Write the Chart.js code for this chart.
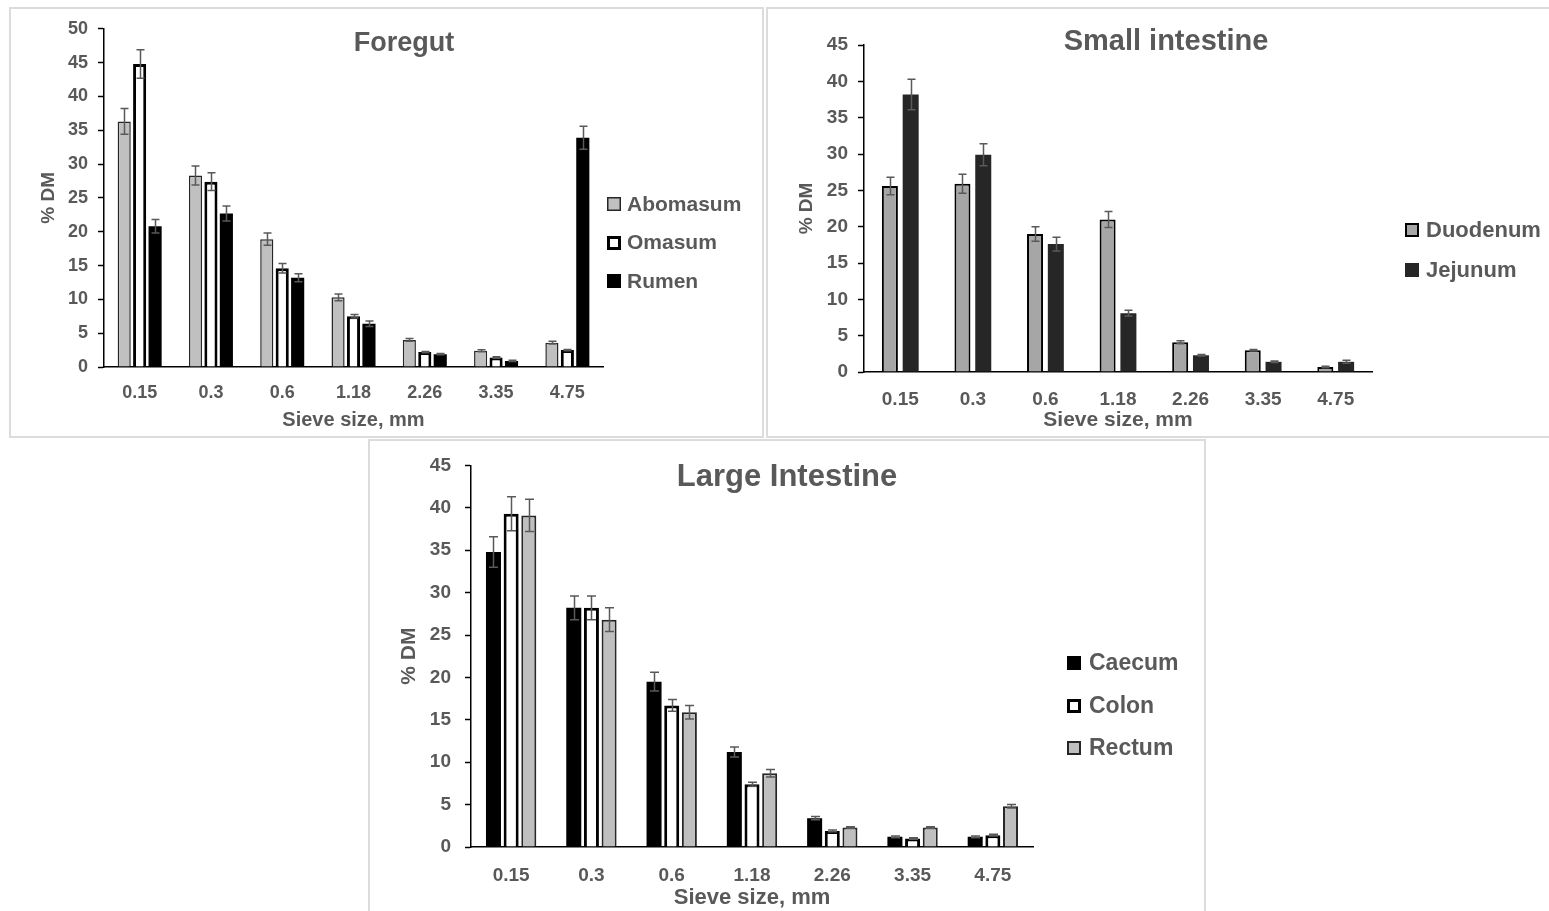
<!DOCTYPE html>
<html>
<head>
<meta charset="utf-8">
<title>Particle size distribution of digesta along the gut</title>
<script src="https://cdn.jsdelivr.net/npm/chart.js@4.4.1/dist/chart.umd.min.js"></script>
<style>
  html, body { margin: 0; padding: 0; background: #fff; }
  body { width: 1549px; height: 911px; position: relative; overflow: hidden; }
  .frame { position: absolute; box-sizing: border-box; border: 2px solid #dcdcdc; }
  canvas { position: absolute; }
</style>
</head>
<body>
<div class="frame" style="left:9px;top:7px;width:755px;height:431px"></div>
<div class="frame" style="left:766px;top:7px;width:800px;height:431px"></div>
<div class="frame" style="left:368px;top:439px;width:838px;height:490px"></div>
<canvas id="foregut" width="754" height="429" style="left:10px;top:8px"></canvas>
<canvas id="small" width="782" height="429" style="left:767px;top:8px"></canvas>
<canvas id="large" width="836" height="471" style="left:369px;top:440px"></canvas>
<script>
// sieve fractions, % of dry matter retained (mean and SE)
const SIEVE = ["0.15", "0.3", "0.6", "1.18", "2.26", "3.35", "4.75"];

const ABOMASUM = [36.3, 28.3, 18.9, 10.3, 4.0, 2.4, 3.6];
const ABOMASUM_SE = [1.9, 1.4, 0.9, 0.5, 0.2, 0.15, 0.2];
const OMASUM = [44.8, 27.4, 14.6, 7.5, 2.2, 1.4, 2.5];
const OMASUM_SE = [2.1, 1.3, 0.7, 0.25, 0.1, 0.1, 0.1];
const RUMEN = [20.8, 22.7, 13.2, 6.4, 1.9, 0.9, 33.9];
const RUMEN_SE = [1.0, 1.1, 0.6, 0.4, 0.1, 0.1, 1.7];

const DUODENUM = [25.6, 25.9, 19.0, 21.0, 4.1, 3.0, 0.7];
const DUODENUM_SE = [1.2, 1.3, 1.0, 1.1, 0.2, 0.1, 0.1];
const JEJUNUM = [38.2, 29.9, 17.6, 8.1, 2.3, 1.4, 1.4];
const JEJUNUM_SE = [2.1, 1.5, 0.95, 0.4, 0.1, 0.1, 0.2];

const CAECUM = [34.8, 28.2, 19.5, 11.2, 3.4, 1.2, 1.2];
const CAECUM_SE = [1.8, 1.4, 1.1, 0.6, 0.2, 0.1, 0.1];
const COLON = [39.3, 28.2, 16.7, 7.4, 1.9, 1.0, 1.4];
const COLON_SE = [2.0, 1.4, 0.7, 0.25, 0.1, 0.1, 0.1];
const RECTUM = [39.1, 26.8, 15.9, 8.7, 2.3, 2.3, 4.8];
const RECTUM_SE = [1.9, 1.4, 0.8, 0.45, 0.1, 0.1, 0.2];

(() => {
  const $ = (id) => document.getElementById(id);
  const FONT = '"Liberation Sans", Arial, sans-serif';
  const INK = "#595959";

  Chart.defaults.font.family = FONT;
  Chart.defaults.font.weight = "bold";
  Chart.defaults.color = INK;

  // mean ± SE whiskers on top of each bar
  const errorBars = {
    id: "errorBars",
    afterDatasetsDraw(chart, args, o) {
      const { ctx } = chart, y = chart.scales.y;
      ctx.save();
      ctx.strokeStyle = o.color; ctx.lineWidth = o.width;
      chart.data.datasets.forEach((ds, di) => {
        if (!ds.errors) return;
        chart.getDatasetMeta(di).data.forEach((bar, i) => {
          const v = ds.data[i], e = ds.errors[i];
          const top = y.getPixelForValue(v + e), bot = y.getPixelForValue(v - e);
          const x = Math.round(bar.x) + 0.5;
          ctx.beginPath();
          ctx.moveTo(x, top); ctx.lineTo(x, bot);
          ctx.moveTo(x - o.cap, top); ctx.lineTo(x + o.cap, top);
          ctx.moveTo(x - o.cap, bot); ctx.lineTo(x + o.cap, bot);
          ctx.stroke();
        });
      });
      ctx.restore();
    },
  };

  // title sits inside the plot, like the spreadsheet original
  const panelTitle = {
    id: "panelTitle",
    afterDraw(chart, args, o) {
      const { ctx } = chart;
      ctx.save();
      ctx.font = `bold ${o.size}px ${FONT}`;
      ctx.fillStyle = INK; ctx.textAlign = "center"; ctx.textBaseline = "middle";
      ctx.fillText(o.text, o.x, o.y);
      ctx.restore();
    },
  };

  // legend to the right of the plot, swatches copy the dataset styling
  const sideLegend = {
    id: "sideLegend",
    afterDraw(chart, args, o) {
      const { ctx } = chart;
      ctx.save();
      ctx.font = `bold ${o.size}px ${FONT}`;
      ctx.textBaseline = "middle";
      chart.data.datasets.forEach((ds, i) => {
        const cy = o.y + i * o.gap, bw = ds.legendBorder || 0;
        const bx = o.x, by = Math.round(cy - o.box / 2);
        ctx.fillStyle = bw ? ds.borderColor : ds.backgroundColor;
        ctx.fillRect(bx, by, o.box, o.box);
        if (bw) {
          ctx.fillStyle = ds.backgroundColor;
          ctx.fillRect(bx + bw, by + bw, o.box - 2 * bw, o.box - 2 * bw);
        }
        ctx.fillStyle = INK;
        ctx.fillText(ds.label, o.textX, cy + 1);
      });
      ctx.restore();
    },
  };

  const series = (label, data, errors, fill, border, bw, legendBorder) => ({
    label, data, errors,
    backgroundColor: fill, borderColor: border, borderWidth: bw, legendBorder,
  });

  function drawPanel(id, p) {
    new Chart($(id), {
      type: "bar",
      data: { labels: SIEVE, datasets: p.datasets.map((d) => Object.assign(d, {
        categoryPercentage: p.cat, barPercentage: p.bar,
      })) },
      options: {
        responsive: false, animation: false,
        layout: { padding: { left: 0, top: p.top, right: p.right, bottom: 0 } },
        plugins: {
          legend: { display: false }, tooltip: { enabled: false },
          errorBars: { color: "#595959", width: 1.5, cap: p.cap },
          panelTitle: p.title,
          sideLegend: p.legend,
        },
        scales: {
          x: {
            grid: { display: false, drawTicks: false },
            border: { color: "#000", width: 1.5 },
            ticks: { font: { size: p.tick }, padding: p.xPad, color: INK },
            title: { display: true, text: "Sieve size, mm", color: INK,
              font: { size: p.axis }, padding: { top: 0, bottom: p.xTitlePad } },
            afterFit: (s) => { s.height = p.xh; },
          },
          y: {
            min: 0, max: p.max,
            ticks: { stepSize: 5, font: { size: p.tick }, padding: p.yPad, color: INK },
            grid: { drawOnChartArea: false, tickLength: 6, tickColor: "#000", tickWidth: 1.5 },
            border: { color: "#000", width: 1.5 },
            title: { display: true, text: "% DM", color: INK,
              font: { size: p.yAxis }, padding: { top: p.yTitlePad, bottom: 0 } },
            afterFit: (s) => { s.width = p.yw; },
          },
        },
      },
      plugins: [errorBars, panelTitle, sideLegend],
    });
  }

  drawPanel("foregut", {
    datasets: [
      series("Abomasum", ABOMASUM, ABOMASUM_SE, "#c0c0c0", "#262626", 1.5, 1.5),
      series("Omasum", OMASUM, OMASUM_SE, "#ffffff", "#000000", 3, 3),
      series("Rumen", RUMEN, RUMEN_SE, "#000000", "#000000", 0, 0),
    ],
    cat: 0.65, bar: 0.85, cap: 4, max: 50,
    top: 18, right: 161, yw: 94, xh: 70,
    tick: 18, axis: 20, yAxis: 19, xPad: 15, yPad: 10, xTitlePad: 5, yTitlePad: 27,
    title: { text: "Foregut", x: 394, y: 36, size: 27 },
    legend: { x: 597, textX: 617, y: 196, gap: 38.5, box: 14, size: 21 },
  });

  drawPanel("small", {
    datasets: [
      series("Duodenum", DUODENUM, DUODENUM_SE, "#a6a6a6", "#000000", 2, 2),
      series("Jejunum", JEJUNUM, JEJUNUM_SE, "#262626", "#262626", 0, 0),
    ],
    cat: 0.573, bar: 0.77, cap: 4, max: 45,
    top: 37, right: 177, yw: 97, xh: 65,
    tick: 19, axis: 21, yAxis: 19, xPad: 16, yPad: 10, xTitlePad: 4, yTitlePad: 28,
    title: { text: "Small intestine", x: 399, y: 34, size: 29 },
    legend: { x: 638, textX: 659, y: 222, gap: 40, box: 14, size: 22 },
  });

  drawPanel("large", {
    datasets: [
      series("Caecum", CAECUM, CAECUM_SE, "#000000", "#000000", 0, 0),
      series("Colon", COLON, COLON_SE, "#ffffff", "#000000", 3, 3),
      series("Rectum", RECTUM, RECTUM_SE, "#bfbfbf", "#262626", 2, 2),
    ],
    cat: 0.66, bar: 0.85, cap: 4.5, max: 45,
    top: 22, right: 172, yw: 102, xh: 64,
    tick: 19, axis: 22, yAxis: 21, xPad: 17, yPad: 14, xTitlePad: 0, yTitlePad: 28,
    title: { text: "Large Intestine", x: 418, y: 37, size: 31 },
    legend: { x: 698, textX: 720, y: 223, gap: 42.5, box: 14, size: 23 },
  });
})();
</script>
</body>
</html>
